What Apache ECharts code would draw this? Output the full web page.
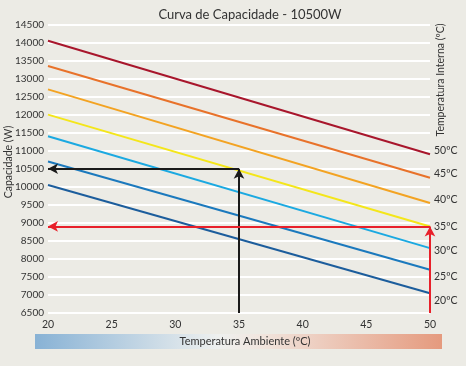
<!DOCTYPE html>
<html><head><meta charset="utf-8">
<script src="https://cdn.jsdelivr.net/npm/echarts@6/dist/echarts.min.js"></script>
<style>html,body{margin:0;padding:0;background:#ecebe5;}#c{width:466px;height:366px;}</style>
</head><body><div id="c"></div>
<script>
var ambientTemps = [20, 50];
var seriesNames = ['50ºC', '45ºC', '40ºC', '35ºC', '30ºC', '25ºC', '20ºC'];
var capAt20 = [14050, 13350, 12700, 12000, 11400, 10700, 10050];
var capAt50 = [10900, 10250, 9550, 8900, 8300, 7700, 7050];
var colors = ['#a8162c', '#e8722a', '#f3a322', '#f4e61a', '#1ba9e1', '#1b79bd', '#1c5d9c'];
var labelOffsets = [[1,-4],[1,-4],[1,-3],[1,0],[1,3],[1,7],[1,7]];
var blackRef = {ambient: 35, capacity: 10500};
var redRef = {ambient: 50, capacity: 8900};
var yMin = 6500, yMax = 14500, yStep = 500;
var xMin = 20, xMax = 50, xStep = 5;

var font = 'Lato, "Open Sans", sans-serif';
var series = seriesNames.map(function(n, i){
  return {
    name: n, type: 'line', symbol: 'none', silent: true,
    data: [[ambientTemps[0], capAt20[i]], [ambientTemps[1], capAt50[i]]],
    lineStyle: {color: colors[i], width: 2},
    endLabel: {show: true, formatter: '{a}', color: '#333', fontSize: 10.5, fontFamily: font, offset: labelOffsets[i], distance: 3},
    z: 2
  };
});
function arrowSeries(ref, color){
  return {
    type: 'line', data: [], silent: true,
    markLine: {
      silent: true, symbol: ['none', 'arrow'], symbolSize: [8, 10],
      label: {show: false},
      lineStyle: {color: color, width: 2, type: 'solid'},
      data: [
        [{coord: [ref.ambient, yMin]}, {coord: [ref.ambient, ref.capacity]}],
        [{coord: [ref.ambient, ref.capacity]}, {coord: [xMin, ref.capacity]}]
      ]
    },
    z: 5
  };
}
series.push(arrowSeries(blackRef, '#1a1a1a'));
series.push(arrowSeries(redRef, '#e8202a'));

var chart = echarts.init(document.getElementById('c'), null, {renderer: 'canvas'});
chart.setOption({
  backgroundColor: '#ecebe5',
  animation: false,
  title: {text: 'Curva de Capacidade - 10500W', left: 245, textAlign: 'center', top: 3,
    textStyle: {fontSize: 13, fontWeight: 'normal', color: '#333', fontFamily: font}},
  grid: {left: 48, right: 36, top: 24.5, bottom: 53, containLabel: false, outerBoundsMode: 'none'},
  xAxis: {type: 'value', min: xMin, max: xMax, interval: xStep,
    axisLine: {show: false}, axisTick: {show: false}, splitLine: {show: false},
    axisLabel: {color: '#333', fontSize: 10.5, fontFamily: font, margin: 6}},
  yAxis: [{type: 'value', min: yMin, max: yMax, interval: yStep,
    axisLine: {show: false}, axisTick: {show: false},
    splitLine: {lineStyle: {color: '#ffffff', width: 2}},
    axisLabel: {color: '#333', fontSize: 10, fontFamily: font, margin: 4, formatter: function(v){ return String(v); }}},
  ],
  graphic: [
    {type: 'rect', shape: {x: 35, y: 334, width: 407, height: 15},
      style: {fill: new echarts.graphic.LinearGradient(0, 0, 1, 0, [
        {offset: 0, color: '#88b2d5'}, {offset: 0.45, color: '#eef0ef'}, {offset: 0.55, color: '#f1e6df'}, {offset: 1, color: '#e59a7e'}])}},
    {type: 'text', x: 0, style: {text: 'Temperatura Ambiente (ºC)', x: 245, y: 341.5, align: 'center', verticalAlign: 'middle', fill: '#333', fontSize: 11, fontFamily: font}},
    {type: 'text', rotation: Math.PI / 2, x: 9, y: 162, style: {text: 'Capacidade (W)', align: 'center', verticalAlign: 'middle', fill: '#333', fontSize: 10.5, fontFamily: font}},
    {type: 'text', rotation: Math.PI / 2, x: 441, y: 80, style: {text: 'Temperatura Interna (ºC)', align: 'center', verticalAlign: 'middle', fill: '#333', fontSize: 10.5, fontFamily: font}}
  ],
  series: series
});
</script></body></html>
